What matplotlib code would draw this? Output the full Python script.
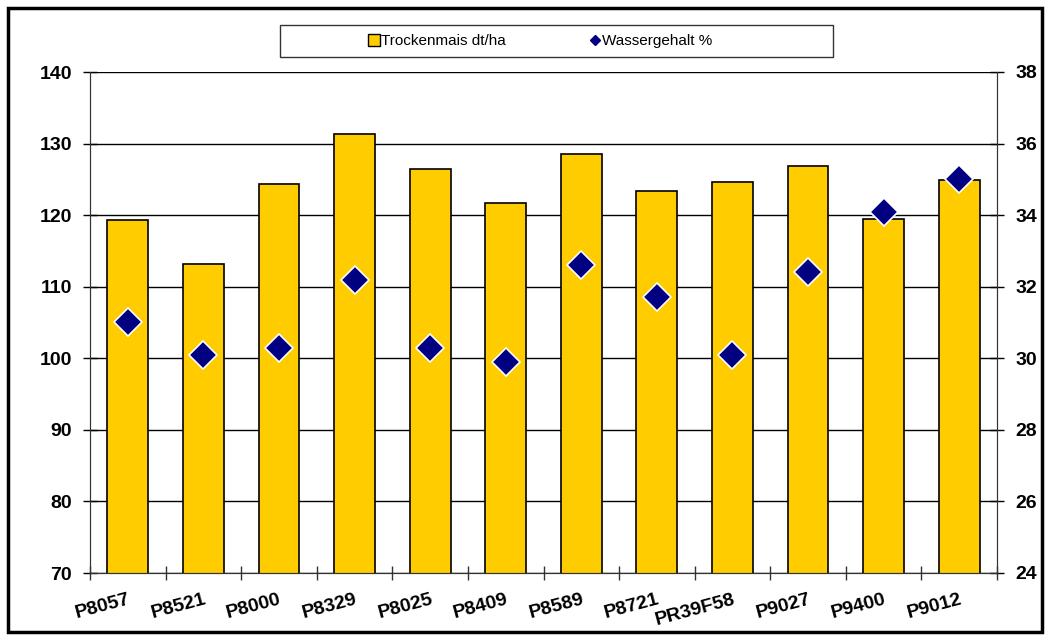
import matplotlib
matplotlib.use("Agg")
import matplotlib.pyplot as plt
import numpy as np
from matplotlib.patches import Rectangle
from matplotlib.lines import Line2D

plt.rcParams["font.family"] = ["Liberation Sans", "DejaVu Sans"]

sorten = ["P8057", "P8521", "P8000", "P8329", "P8025", "P8409",
          "P8589", "P8721", "PR39F58", "P9027", "P9400", "P9012"]
trockenmais = [119.3, 113.2, 124.3, 131.4, 126.4, 121.7,
               128.5, 123.4, 124.6, 126.8, 119.5, 124.9]
wassergehalt = [31.0, 30.1, 30.3, 32.2, 30.3, 29.9,
                32.6, 31.7, 30.1, 32.4, 34.1, 35.0]

W, H = 1050, 640
fig = plt.figure(figsize=(W / 100, H / 100), dpi=100)
ax = fig.add_axes([90 / W, 1 - 573 / H, 907 / W, 501 / H])
ax2 = ax.twinx()

x = np.arange(len(sorten))
ax.set_axisbelow(True)
ax.grid(axis="y", color="black", linewidth=1.0, zorder=0)
ax.bar(x, trockenmais, width=0.54, color="#FFCC00", edgecolor="black",
       linewidth=1.2, zorder=2)
ax.set_xlim(-0.5, len(sorten) - 0.5)
ax.set_ylim(70, 140)
ax.set_yticks(range(70, 141, 10))

ax2.plot(x, wassergehalt, linestyle="none", marker="D", markersize=14,
         markerfacecolor="#000080", markeredgecolor="white",
         markeredgewidth=1.2, zorder=3)
ax2.set_ylim(24, 38)
ax2.set_yticks(range(24, 39, 2))

ax.set_xticks(x)
ax.set_xticklabels(sorten, rotation=15, ha="right", rotation_mode="anchor",
                   fontweight="bold", fontsize=14)
ax.tick_params(axis="x", which="major", length=0, pad=13)
ax.set_xticks(np.arange(-0.5, len(sorten)), minor=True)
ax.tick_params(axis="x", which="minor", direction="inout", length=10,
               width=1, color="#333333")
for a in (ax, ax2):
    a.tick_params(axis="y", direction="inout", length=10, width=1,
                  labelsize=14, pad=8)
    for lab in a.get_yticklabels():
        lab.set_fontweight("bold")
    for s in a.spines.values():
        s.set_color("#333333")
    a.spines["top"].set_visible(False)

# legend at the top, frame drawn separately
fig.patches.append(Rectangle((280 / W, 1 - 57 / H), 553 / W, 32 / H,
                             transform=fig.transFigure, fill=False,
                             edgecolor="#333333", linewidth=1.0))
leg_handles = [
    Line2D([], [], linestyle="none", marker="s", markersize=9,
           markerfacecolor="#FFCC00", markeredgecolor="black"),
    Line2D([], [], linestyle="none", marker="D", markersize=5,
           markerfacecolor="#000080", markeredgecolor="#000080"),
]
fig.legend(leg_handles, ["Trockenmais dt/ha", "Wassergehalt %"],
           loc="center", bbox_to_anchor=(540 / W, 1 - 41 / H),
           ncol=2, frameon=False, fontsize=11,
           handletextpad=0.1, columnspacing=5.4, handlelength=0.8)

fig.patches.append(Rectangle((8 / W, 8 / H), 1034 / W, 624 / H,
                             transform=fig.transFigure, fill=False,
                             edgecolor="black", linewidth=2.5))

fig.savefig("out.png", dpi=100)
